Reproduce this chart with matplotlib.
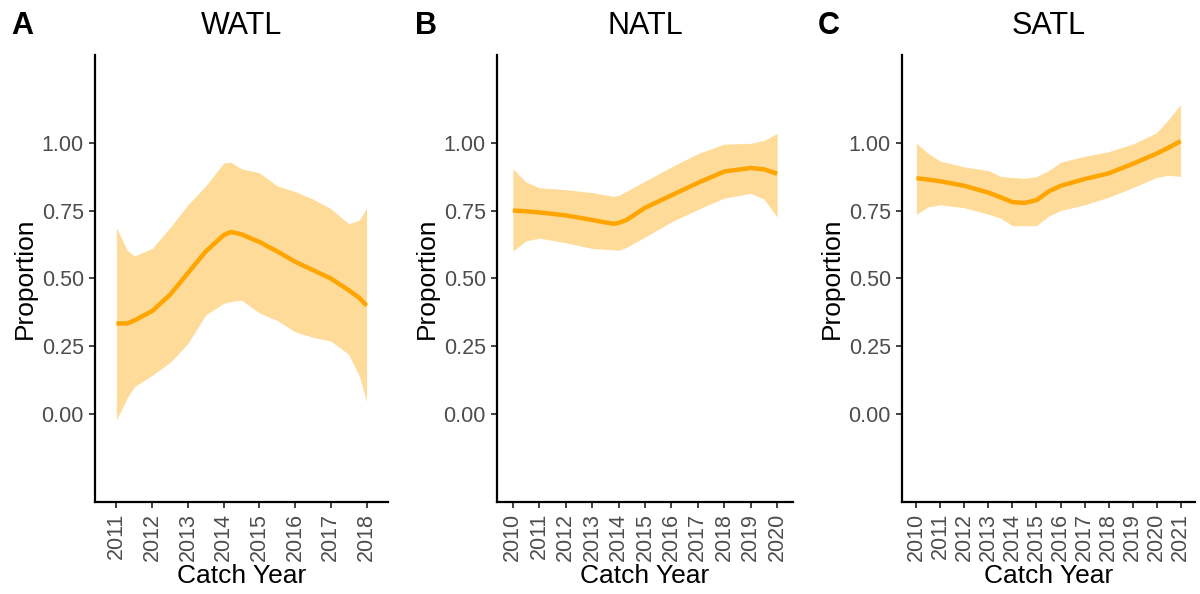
import matplotlib
matplotlib.use("Agg")
import matplotlib.pyplot as plt
import numpy as np

plt.rcParams['font.family'] = ['Liberation Sans', 'DejaVu Sans']

# WATL (panel A)
watl_x = [2011, 2011.3, 2011.5, 2012, 2012.5, 2013, 2013.5, 2014, 2014.2, 2014.5,
          2015, 2015.5, 2016, 2016.5, 2017, 2017.5, 2017.8, 2018]
watl_fit = [0.334, 0.334, 0.345, 0.38, 0.44, 0.52, 0.60, 0.66, 0.672, 0.663,
            0.635, 0.60, 0.562, 0.531, 0.50, 0.457, 0.428, 0.40]
watl_hi = [0.688, 0.604, 0.583, 0.611, 0.688, 0.772, 0.842, 0.926, 0.929, 0.905,
           0.89, 0.842, 0.821, 0.793, 0.758, 0.702, 0.716, 0.761]
watl_lo = [-0.022, 0.059, 0.10, 0.143, 0.19, 0.26, 0.366, 0.408, 0.415, 0.42,
           0.373, 0.345, 0.303, 0.283, 0.269, 0.22, 0.14, 0.045]

# NATL (panel B)
natl_x = [2010, 2010.5, 2011, 2012, 2013, 2013.8, 2014, 2014.3, 2015, 2016,
          2017, 2018, 2019, 2019.5, 2020]
natl_fit = [0.751, 0.748, 0.744, 0.733, 0.716, 0.702, 0.705, 0.716, 0.761, 0.807,
            0.853, 0.895, 0.908, 0.903, 0.887]
natl_hi = [0.905, 0.856, 0.835, 0.828, 0.817, 0.803, 0.807, 0.822, 0.859, 0.912,
           0.961, 0.996, 0.999, 1.01, 1.035]
natl_lo = [0.601, 0.639, 0.649, 0.632, 0.611, 0.606, 0.604, 0.615, 0.653, 0.709,
           0.755, 0.797, 0.814, 0.793, 0.727]

# SATL (panel C)
satl_x = [2010, 2010.5, 2011, 2012, 2013, 2013.5, 2014, 2014.5, 2015, 2015.5,
          2016, 2017, 2018, 2019, 2020, 2020.5, 2021]
satl_fit = [0.870, 0.865, 0.859, 0.842, 0.817, 0.80, 0.782, 0.779, 0.789, 0.821,
            0.842, 0.867, 0.888, 0.923, 0.961, 0.983, 1.007]
satl_hi = [0.999, 0.961, 0.933, 0.912, 0.898, 0.877, 0.873, 0.870, 0.876, 0.898,
           0.929, 0.951, 0.968, 0.996, 1.038, 1.087, 1.143]
satl_lo = [0.737, 0.765, 0.772, 0.761, 0.737, 0.723, 0.695, 0.695, 0.695, 0.730,
           0.751, 0.772, 0.80, 0.835, 0.873, 0.881, 0.877]

panels = [
    ("A", "WATL", watl_x, watl_fit, watl_lo, watl_hi, list(range(2011, 2019))),
    ("B", "NATL", natl_x, natl_fit, natl_lo, natl_hi, list(range(2010, 2021))),
    ("C", "SATL", satl_x, satl_fit, satl_lo, satl_hi, list(range(2010, 2022))),
]
y_ticks = [0.0, 0.25, 0.5, 0.75, 1.0]

fig = plt.figure(figsize=(12, 5.94), dpi=100)
lefts = [95 / 1200, 497 / 1200, 902 / 1200]
widths = [293 / 1200, 296 / 1200, 293 / 1200]
letter_x = [11 / 1200, 415 / 1200, 818 / 1200]

for i, (letter, name, x, fit, lo, hi, years) in enumerate(panels):
    ax = fig.add_axes([lefts[i], 0.1549, widths[i], 0.7525])
    ax.fill_between(x, lo, hi, color="orange", alpha=0.4, linewidth=0)
    ax.plot(x, fit, color="orange", linewidth=3.2, solid_capstyle="butt")
    ax.set_xlim(years[0] - 0.6, years[-1] + 0.6)
    ax.set_ylim(-0.325, 1.325)
    ax.set_xticks(years)
    ax.set_xticklabels([str(y) for y in years], rotation=90)
    ax.set_yticks(y_ticks)
    ax.set_yticklabels(["%.2f" % v for v in y_ticks])
    for s in ["top", "right"]:
        ax.spines[s].set_visible(False)
    for s in ["left", "bottom"]:
        ax.spines[s].set_linewidth(1.6)
        ax.spines[s].set_color("black")
    ax.tick_params(axis="both", length=4.5, width=1.3, color="#333333",
                   labelcolor="#4D4D4D", labelsize=15.5, pad=3.5)
    ax.set_xlabel("Catch Year", fontsize=19, labelpad=2)
    ax.set_ylabel("Proportion", fontsize=19, labelpad=3)
    ax.set_title(name, fontsize=22, pad=15)
    fig.text(letter_x[i], 1 - 34 / 594, letter, fontsize=22, fontweight="bold",
             ha="left", va="baseline")

fig.savefig("out.png", dpi=100)
